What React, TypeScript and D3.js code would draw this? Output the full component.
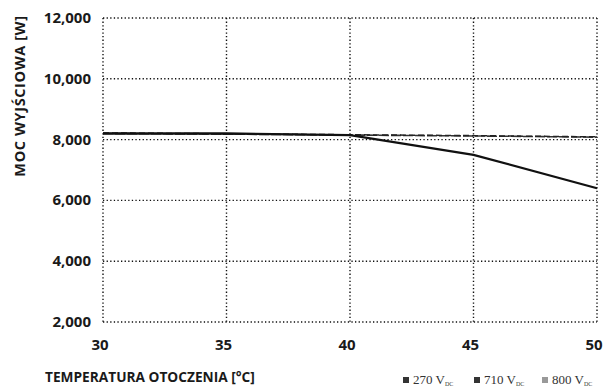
import React, { useRef, useEffect } from 'react';
import * as d3 from 'd3';

const temps = [30, 35, 40, 45, 50];
const yTicks = [2000, 4000, 6000, 8000, 10000, 12000];
const power270 = [8200, 8200, 8150, 7500, 6400];
const power710 = [8220, 8190, 8160, 8130, 8090];
const power800 = [8200, 8180, 8150, 8120, 8080];
const legendItems = ['270', '710', '800'];

const W = 604;
const H = 389;

const App: React.FC = () => {
  const svgRef = useRef<SVGSVGElement>(null);

  useEffect(() => {
    if (!svgRef.current) return;
    const svg = d3.select(svgRef.current);
    svg.selectAll('*').remove();

    const x = d3.scaleLinear().domain([30, 50]).range([103, 597]);
    const y = d3.scaleLinear().domain([2000, 12000]).range([322, 18]);
    const font = "'Open Sans', 'DejaVu Sans', sans-serif";

    svg.append('rect').attr('width', W).attr('height', H).attr('fill', '#fff');

    // dotted grid
    const grid = svg.append('g')
      .attr('stroke', '#111')
      .attr('stroke-width', 1.4)
      .attr('stroke-dasharray', '1.3,2.3');
    grid.selectAll('.h').data(yTicks).enter().append('line')
      .attr('x1', x(30)).attr('x2', x(50))
      .attr('y1', d => y(d)).attr('y2', d => y(d));
    grid.selectAll('.v').data(temps).enter().append('line')
      .attr('x1', d => x(d)).attr('x2', d => x(d))
      .attr('y1', y(12000)).attr('y2', y(2000));

    // y tick labels
    svg.append('g').selectAll('text').data(yTicks).enter().append('text')
      .attr('x', 91).attr('y', d => y(d) + 5)
      .attr('text-anchor', 'end')
      .style('font-family', font).style('font-weight', 'bold').style('font-size', '15px')
      .attr('fill', '#1a1a1a')
      .text(d => d3.format(',')(d));

    // x tick labels
    svg.append('g').selectAll('text').data(temps).enter().append('text')
      .attr('x', d => x(d) - 3).attr('y', 350)
      .attr('text-anchor', 'middle')
      .style('font-family', font).style('font-weight', 'bold').style('font-size', '15px')
      .attr('fill', '#1a1a1a')
      .text(d => d);

    // axis titles
    svg.append('text')
      .attr('transform', 'translate(25,96) rotate(-90)')
      .attr('text-anchor', 'middle')
      .style('font-family', font).style('font-weight', 'bold').style('font-size', '14.5px')
      .style('letter-spacing', '0.6px')
      .attr('fill', '#1a1a1a')
      .text('MOC WYJŚCIOWA [W]');
    svg.append('text')
      .attr('x', 45).attr('y', 382)
      .style('font-family', font).style('font-weight', 'bold').style('font-size', '13.7px')
      .attr('fill', '#1a1a1a')
      .text('TEMPERATURA OTOCZENIA [°C]');

    const line = d3.line<number>()
      .x((d, i) => x(temps[i]))
      .y(d => y(d));

    svg.append('path').datum(power800)
      .attr('d', line).attr('fill', 'none')
      .attr('stroke', '#333').attr('stroke-width', 1.6)
      .attr('stroke-dasharray', '10,2');
    svg.append('path').datum(power710)
      .attr('d', line).attr('fill', 'none')
      .attr('stroke', '#222').attr('stroke-width', 1.5)
      .attr('stroke-dasharray', '6,3');
    svg.append('path').datum(power270)
      .attr('d', line).attr('fill', 'none')
      .attr('stroke', '#111').attr('stroke-width', 2.3);

    // legend
    const legX = [403, 474, 542];
    const leg = svg.append('g').selectAll('g').data(legendItems).enter().append('g')
      .attr('transform', (d, i) => `translate(${legX[i]},384)`);
    leg.append('rect')
      .attr('x', 0).attr('y', -7).attr('width', 6).attr('height', 6)
      .attr('fill', (d, i) => (i === 2 ? '#999' : '#333'));
    const t = leg.append('text')
      .attr('x', 10).attr('y', 0)
      .style('font-family', "'Liberation Serif', 'DejaVu Serif', serif")
      .style('font-size', '13px')
      .attr('fill', '#333');
    t.append('tspan').text(d => `${d} V`);
    t.append('tspan').attr('dy', 2).style('font-size', '6px').text('DC');
  }, []);

  return (
    <svg
      ref={svgRef}
      width={W}
      height={H}
      style={{ position: 'absolute', left: 0, top: 0, display: 'block' }}
    />
  );
};

export default App;
